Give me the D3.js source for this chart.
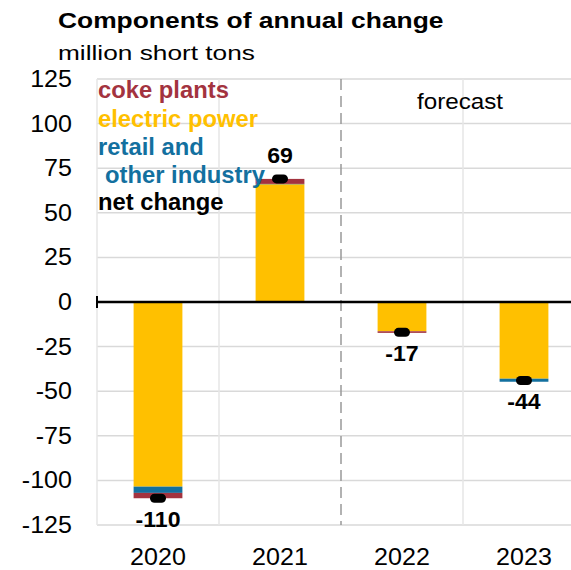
<!DOCTYPE html>
<html>
<head>
<meta charset="utf-8">
<script src="https://cdn.jsdelivr.net/npm/d3@7"></script>
<style>
    body { margin: 0; background: #fff; }
    text { font-family: "Liberation Sans", Arial, sans-serif; }
</style>
</head>
<body>
<div id="chart"></div>
<script>
// data
let years = ["2020", "2021", "2022", "2023"];
let electricPower = [-103.5, 66, -16.4, -43];
let retailOther = [-3.5, 0.2, 0.3, -1.7];
let cokePlants = [-3, 2.8, -0.9, 0.3];
let netChange = [-110, 69, -17, -44];
let yTicks = [125, 100, 75, 50, 25, 0, -25, -50, -75, -100, -125];

let width = 571, height = 570;
let margin = {top: 79, right: -14, bottom: 45, left: 97};

let colors = {electric: "#ffc000", retail: "#13709f", coke: "#a3333f"};

let svg = d3.select("#chart").append("svg")
    .attr("width", width)
    .attr("height", height);

// helper: text with a horizontal stretch to mimic the reference glyphs
function addText(g, x, y, str, size, sx, opts) {
    opts = opts || {};
    return g.append("text")
        .attr("transform", `translate(${x},${y}) scale(${sx},1)`)
        .attr("font-size", size)
        .attr("font-weight", opts.bold ? "bold" : "normal")
        .attr("text-anchor", opts.anchor || "start")
        .attr("fill", opts.fill || "#000")
        .text(str);
}

// scales
let x = d3.scaleBand()
    .domain(years)
    .range([margin.left, width - margin.right])
    .padding(0);

let y = d3.scaleLinear()
    .domain([-125, 125])
    .range([height - margin.bottom, margin.top]);

let barW = x.bandwidth() * 0.4;

// gridlines
let grid = svg.append("g").attr("class", "grid");
grid.selectAll(".hgrid")
    .data(yTicks)
    .enter().append("line")
    .attr("x1", margin.left)
    .attr("x2", width)
    .attr("y1", d => y(d))
    .attr("y2", d => y(d))
    .attr("stroke", "#d9d9d9")
    .attr("stroke-width", 1.5);

grid.selectAll(".vgrid")
    .data(years)
    .enter().append("line")
    .attr("x1", d => x(d))
    .attr("x2", d => x(d))
    .attr("y1", y(125))
    .attr("y2", y(-125))
    .attr("stroke", d => d === "2022" ? "#999" : "#e6e6e6")
    .attr("stroke-width", 1.5)
    .attr("stroke-dasharray", d => d === "2022" ? "11,6" : null);

// stacked bars
let table = years.map((yr, i) => ({
    year: yr,
    electric: electricPower[i],
    retail: retailOther[i],
    coke: cokePlants[i]
}));

let stack = d3.stack()
    .keys(["electric", "retail", "coke"])
    .offset(d3.stackOffsetDiverging);

let series = stack(table);

svg.append("g").attr("class", "bars")
    .selectAll("g")
    .data(series)
    .enter().append("g")
    .attr("fill", d => colors[d.key])
    .selectAll("rect")
    .data(d => d)
    .enter().append("rect")
    .attr("x", d => x(d.data.year) + (x.bandwidth() - barW) / 2)
    .attr("width", barW)
    .attr("y", d => y(Math.max(d[0], d[1])))
    .attr("height", d => Math.abs(y(d[0]) - y(d[1])));

// zero line + left tick
svg.append("line")
    .attr("x1", margin.left)
    .attr("x2", width)
    .attr("y1", y(0))
    .attr("y2", y(0))
    .attr("stroke", "#000")
    .attr("stroke-width", 2.5);
svg.append("line")
    .attr("x1", margin.left)
    .attr("x2", margin.left)
    .attr("y1", y(0) - 6)
    .attr("y2", y(0) + 6)
    .attr("stroke", "#000")
    .attr("stroke-width", 2);

// net change markers
let cx = i => x(years[i]) + x.bandwidth() / 2;
svg.append("g").attr("class", "net")
    .selectAll("rect")
    .data(netChange)
    .enter().append("rect")
    .attr("x", (d, i) => cx(i) - 8)
    .attr("y", d => y(d) - 4.5)
    .attr("width", 16)
    .attr("height", 9)
    .attr("rx", 4.5)
    .attr("fill", "#000");

// net change labels
let labels = svg.append("g").attr("class", "labels");
netChange.forEach((d, i) => {
    let ly = d >= 0 ? y(d) - 16 : y(d) + 29;
    addText(labels, cx(i), ly, d, 22, 1.05, {bold: true, anchor: "middle"});
});

// y tick labels
let axisG = svg.append("g").attr("class", "yaxis");
yTicks.forEach(t => addText(axisG, 72, y(t) + 8, t, 23, 1.09, {anchor: "end"}));

// x labels
let xG = svg.append("g").attr("class", "xaxis");
years.forEach((yr, i) => addText(xG, cx(i), 565, yr, 23, 1.09, {anchor: "middle"}));

// title
addText(svg, 58, 28, "Components of annual change", 22, 1.2, {bold: true});
addText(svg, 58, 60, "million short tons", 21, 1.25);

// forecast label
addText(svg, 460, 109, "forecast", 22, 1.1, {anchor: "middle"});

// legend
let legend = svg.append("g").attr("class", "legend");
addText(legend, 98, 98, "coke plants", 23, 1.035, {bold: true, fill: colors.coke});
addText(legend, 98, 127, "electric power", 23, 1.035, {bold: true, fill: colors.electric});
addText(legend, 98, 155, "retail and", 23, 1.035, {bold: true, fill: colors.retail});
addText(legend, 105, 183, "other industry", 23, 1.035, {bold: true, fill: colors.retail});
addText(legend, 98, 210, "net change", 23, 1.035, {bold: true});
</script>
</body>
</html>
